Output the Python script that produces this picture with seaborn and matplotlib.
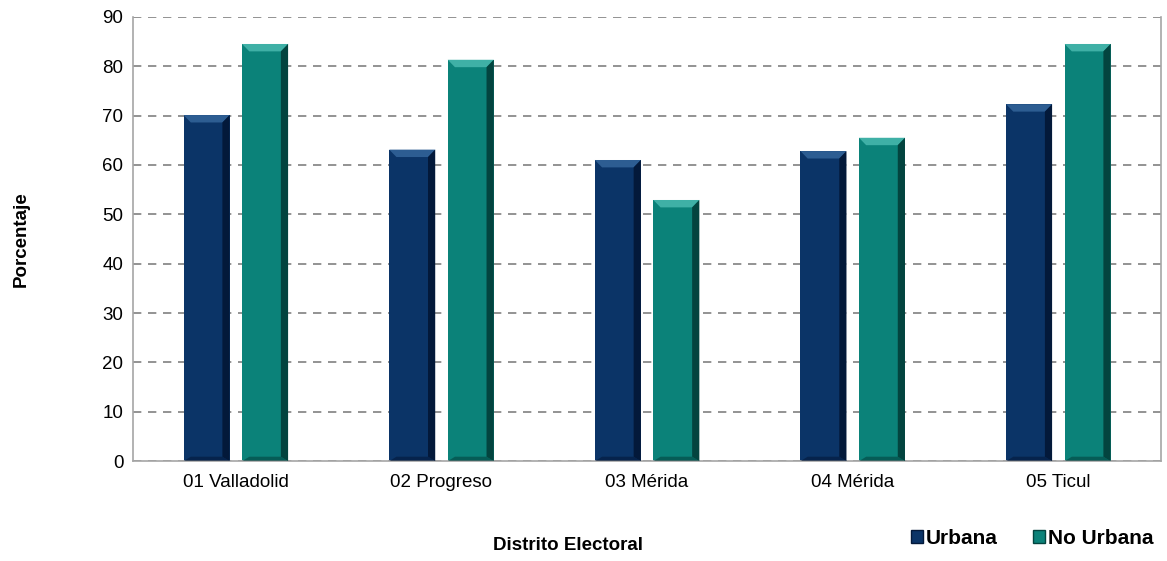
import pandas as pd
import numpy as np
from matplotlib import pyplot as plt
from matplotlib.patches import Patch, Polygon
import seaborn as sns

# datos
distritos = ['01 Valladolid', '02 Progreso', '03 Mérida', '04 Mérida', '05 Ticul']
urbana = [70.1, 63.1, 61.0, 62.8, 72.3]
no_urbana = [84.5, 81.3, 52.9, 65.5, 84.5]
series = ['Urbana', 'No Urbana']
colores = ['#0b3467', '#0b8279']
claros = ['#2d5d92', '#3fb0a6']
oscuros = ['#03193a', '#03443f']

df = pd.DataFrame({'distrito': distritos * 2,
                   'tipo': [series[0]] * 5 + [series[1]] * 5,
                   'valor': urbana + no_urbana})

sns.set_theme(style='white')
plt.rcParams['font.family'] = ['Liberation Sans', 'DejaVu Sans']
plt.rcParams['text.color'] = 'black'

fig = plt.figure(figsize=(11.67, 5.61), dpi=100)
ax = fig.add_axes([0.114, 0.178, 0.881, 0.792])

sns.barplot(data=df, x='distrito', y='valor', hue='tipo', palette=colores, saturation=1,
            width=0.569, gap=0.214, edgecolor='none', legend=False, ax=ax)

ax.set_ylim(0, 90)
ax.set_yticks(np.arange(0, 91, 10))
ax.set_xlim(-0.5, 4.5)

# efecto de bisel en cada barra
bx = 0.035   # ancho del bisel en unidades de categoria
by = 1.5     # alto del bisel en unidades del eje y
for i, p in enumerate(ax.patches[:10]):
    k = i // 5
    x0, w, h = p.get_x(), p.get_width(), p.get_height()
    x1 = x0 + w
    ax.add_patch(Polygon([(x0, h), (x1, h), (x1 - bx, h - by), (x0 + bx, h - by)],
                         closed=True, facecolor=claros[k], edgecolor='none', zorder=3))
    ax.add_patch(Polygon([(x1, h), (x1, 0), (x1 - bx, by * 0.6), (x1 - bx, h - by)],
                         closed=True, facecolor=oscuros[k], edgecolor='none', zorder=3))
    ax.add_patch(Polygon([(x0, 0), (x1, 0), (x1 - bx, by * 0.6), (x0 + bx, by * 0.6)],
                         closed=True, facecolor=oscuros[k], edgecolor='none', alpha=0.6, zorder=3))

ax.yaxis.grid(True, linestyle=(0, (5, 4)), color='#808080', linewidth=1.2)
ax.set_axisbelow(True)
for s in ['left', 'bottom', 'right']:
    ax.spines[s].set_color('#a6a6a6')
    ax.spines[s].set_linewidth(1.2)
ax.spines['top'].set_visible(False)
ax.tick_params(axis='both', labelsize=13.5, colors='black', length=0, pad=7)
ax.tick_params(axis='x', pad=9)
ax.set_xlabel('')
ax.set_ylabel('')

fig.text(0.487, 0.028, 'Distrito Electoral', fontsize=13.5, fontweight='bold', ha='center', va='center')
fig.text(0.018, 0.573, 'Porcentaje', fontsize=13.5, fontweight='bold', rotation=90, ha='center', va='center')

handles = [Patch(facecolor=c, edgecolor=o, label=l) for c, o, l in zip(colores, oscuros, series)]
fig.legend(handles=handles, loc='center right', bbox_to_anchor=(0.999, 0.04), ncol=2, frameon=False,
           prop={'size': 15, 'weight': 'bold'}, handlelength=0.55, handleheight=0.55,
           handletextpad=0.15, columnspacing=1.7, borderpad=0.1)

plt.savefig('out.png', dpi=100)
